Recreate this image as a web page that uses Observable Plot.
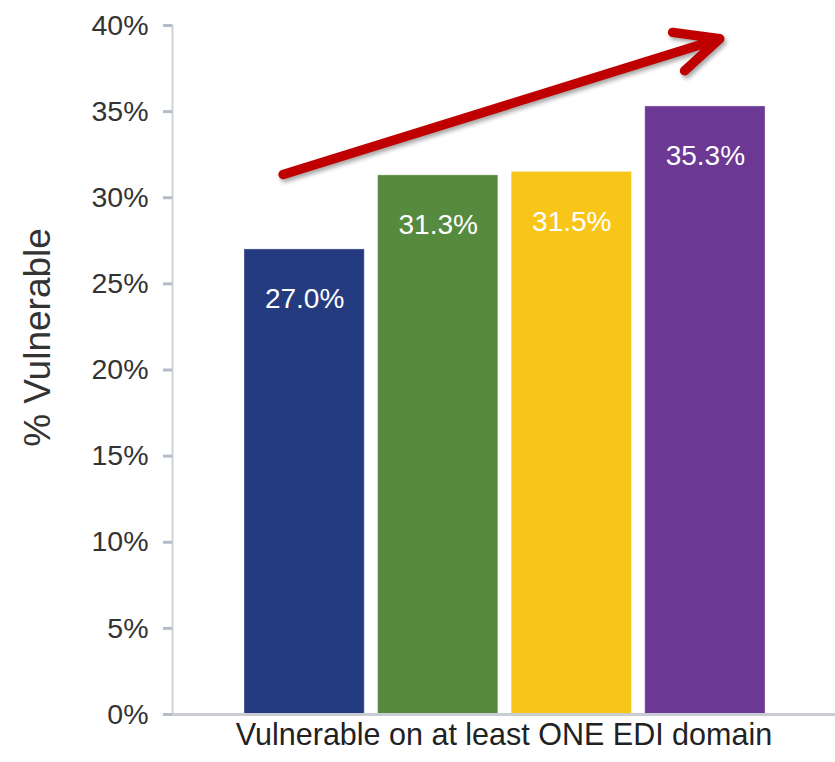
<!DOCTYPE html>
<html>
<head>
<meta charset="utf-8">
<script src="https://cdn.jsdelivr.net/npm/d3@7"></script>
<script src="https://cdn.jsdelivr.net/npm/@observablehq/plot@0.6"></script>
<style>
  html, body { margin: 0; padding: 0; background: #ffffff; }
</style>
</head>
<body>
<div id="chart"></div>
<script>
// Share of children vulnerable on at least one EDI domain, one bar per cohort
const groups = ["Cohort 1", "Cohort 2", "Cohort 3", "Cohort 4"];
const shares = [27.0, 31.3, 31.5, 35.3];
const barColors = ["#253b80", "#558a3f", "#f8c519", "#6b3894"];
const yTicks = [0, 5, 10, 15, 20, 25, 30, 35, 40];

// Upward trend arrow: values at the first and last bar centres
const trendStart = 31.74;
const trendEnd = 38.97;

const yTitle = "% Vulnerable";
const xTitle = "Vulnerable on at least ONE EDI domain";

const bars = groups.map((g, i) => ({group: g, share: shares[i], color: barColors[i]}));
const trend = [{from: groups[0], to: groups[groups.length - 1], y1: trendStart, y2: trendEnd}];

const chart = Plot.plot({
  width: 835,
  height: 762,
  marginLeft: 172,
  marginRight: 0,
  marginTop: 25,
  marginBottom: 48,
  style: {fontFamily: "'Liberation Sans', Arial, sans-serif", background: "#ffffff", overflow: "visible"},
  x: {domain: groups, insetLeft: 72, insetRight: 70, paddingInner: 0.1, paddingOuter: 0, round: false, axis: null},
  y: {domain: [0, 40], axis: null},
  marks: [
    Plot.barY(bars, {x: "group", y: "share", fill: "color", stroke: "#ffffff", strokeOpacity: 0.35, strokeWidth: 1}),
    Plot.frame({anchor: "left", stroke: "#cdd3dd", strokeWidth: 2}),
    Plot.ruleY([0], {stroke: "#c9ccd3", strokeWidth: 3}),
    Plot.axisY({
      ticks: yTicks,
      tickSize: 9,
      tickPadding: 15,
      tickFormat: d => d + "%",
      stroke: "#b4bccb",
      strokeWidth: 3,
      fill: "#333333",
      fontSize: 28.5,
      label: null
    }),
    Plot.text(bars, {
      x: "group",
      y: "share",
      text: d => d.share.toFixed(1) + "%",
      fill: "#ffffff",
      dy: 50,
      fontSize: 28
    }),
    Plot.arrow(trend, {
      x1: "from", x2: "to", y1: "y1", y2: "y2",
      stroke: "#c00000",
      strokeWidth: 9.5,
      headLength: 7.5,
      headAngle: 50,
      insetStart: -22.5,
      insetEnd: -15,
      strokeLinecap: "round",
      strokeLinejoin: "round"
    }),
    Plot.text([yTitle], {frameAnchor: "left", textAnchor: "middle", rotate: -90, dx: -134.5, dy: -32.5, fontSize: 37, fill: "#333333"}),
    Plot.text([xTitle], {frameAnchor: "bottom", textAnchor: "middle", dy: 30, fontSize: 30.5, fill: "#222222"})
  ]
});

// soft drop shadow under the trend arrow
const arrowLayer = chart.querySelector('g[aria-label="arrow"]');
if (arrowLayer) arrowLayer.style.filter = "drop-shadow(2px 3px 2px rgba(0,0,0,0.35))";

document.getElementById("chart").appendChild(chart);
</script>
</body>
</html>
